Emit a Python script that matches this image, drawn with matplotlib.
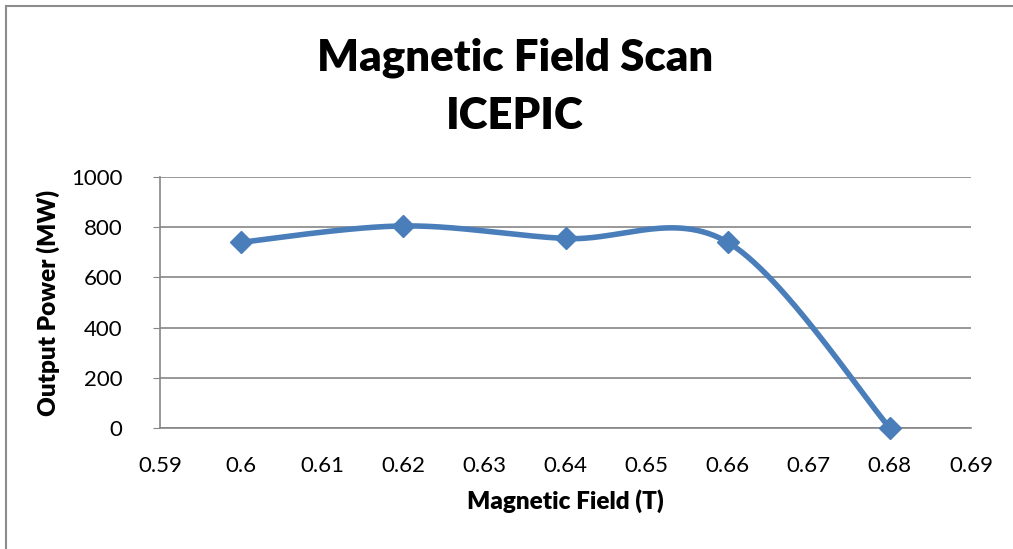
import numpy as np
import matplotlib
matplotlib.use("Agg")
from matplotlib import pyplot as plt
from matplotlib.patches import Rectangle

field = [0.60, 0.62, 0.64, 0.66, 0.68]
power = [740, 805, 755, 740, 0]

x_ticks = [0.59, 0.60, 0.61, 0.62, 0.63, 0.64, 0.65, 0.66, 0.67, 0.68, 0.69]
x_tick_labels = ["0.59", "0.6", "0.61", "0.62", "0.63", "0.64", "0.65", "0.66", "0.67", "0.68", "0.69"]
y_ticks = [0, 200, 400, 600, 800, 1000]

line_color = "#4A7EBB"
grid_color = "#868686"

plt.rcParams['font.family'] = ['Lato', 'DejaVu Sans']


def smooth_line(xs, ys, n=60):
    # Excel style smoothing: cubic bezier with catmull-rom tangents
    pts = np.column_stack([xs, ys]).astype(float)
    ext = np.vstack([pts[0], pts, pts[-1]])
    out = []
    t = np.linspace(0, 1, n)[:, None]
    for i in range(len(pts) - 1):
        p0, p3 = ext[i + 1], ext[i + 2]
        c1 = p0 + (ext[i + 2] - ext[i]) / 6.0
        c2 = p3 - (ext[i + 3] - ext[i + 1]) / 6.0
        seg = ((1 - t) ** 3) * p0 + 3 * ((1 - t) ** 2) * t * c1 + 3 * (1 - t) * t ** 2 * c2 + t ** 3 * p3
        out.append(seg if i == 0 else seg[1:])
    out = np.vstack(out)
    return out[:, 0], out[:, 1]


fig = plt.figure(figsize=(10.13, 5.49), dpi=100)
fig.patches.append(Rectangle((6 / 1013, -0.1), 1.2, 1 - 6 / 549 + 0.1,
                             transform=fig.transFigure, fill=False,
                             edgecolor="#8c8c8c", linewidth=1.5))

ax = fig.add_axes([160 / 1013, 1 - 428 / 549, (971 - 160) / 1013, (428 - 177) / 549])

sx, sy = smooth_line(field, power)
ax.plot(sx, sy, color=line_color, linewidth=4, solid_capstyle="round", zorder=3)
ax.plot(field, power, linestyle="none", marker="D", markersize=11,
        color=line_color, zorder=4, clip_on=False)

ax.set_xlim(0.59, 0.69)
ax.set_ylim(0, 1000)
ax.set_xticks(x_ticks)
ax.set_xticklabels(x_tick_labels)
ax.set_yticks(y_ticks)
ax.yaxis.grid(True, color=grid_color, linewidth=1.2)
ax.set_axisbelow(True)

for side in ["top", "right"]:
    ax.spines[side].set_visible(False)
for side in ["left", "bottom"]:
    ax.spines[side].set_color(grid_color)
    ax.spines[side].set_linewidth(1.2)

ax.tick_params(axis="x", length=0, pad=20, labelsize=16)
ax.tick_params(axis="y", length=5, color=grid_color, pad=22, labelsize=16)

ax.set_xlabel("Magnetic Field (T)", fontsize=17.5, fontweight="heavy", labelpad=10)
ax.set_ylabel("Output Power (MW)", fontsize=17.5, fontweight="heavy", labelpad=8)

fig.text(515 / 1013, 1 - 58 / 549, "Magnetic Field Scan", ha="center", va="center",
         fontsize=31.5, fontweight="heavy")
fig.text(515 / 1013, 1 - 116 / 549, "ICEPIC", ha="center", va="center",
         fontsize=31.5, fontweight="heavy")

fig.savefig("out.png", dpi=100)
